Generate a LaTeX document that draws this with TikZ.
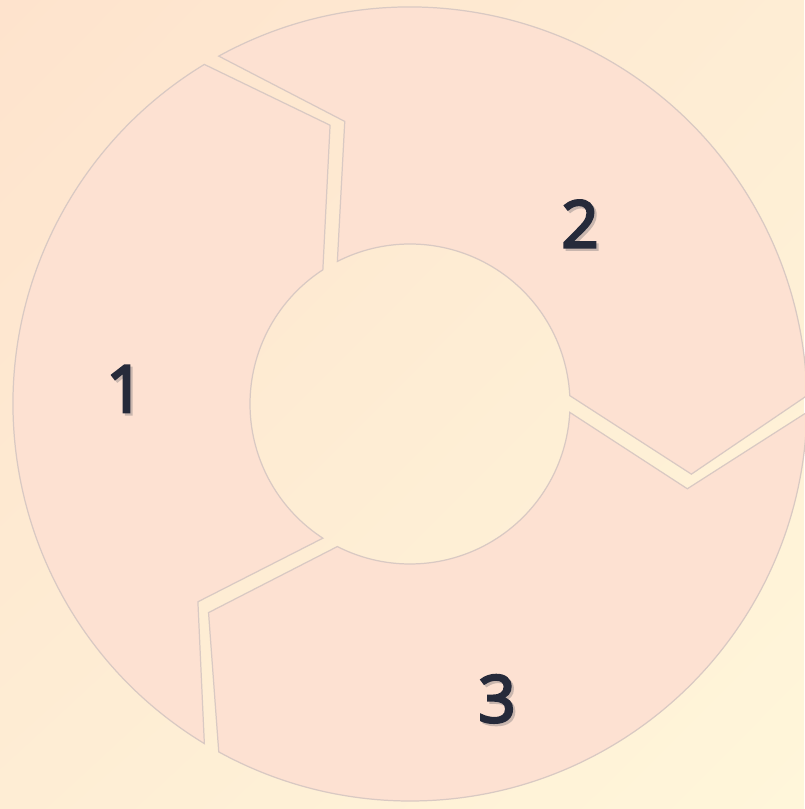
\documentclass[tikz,border=0pt]{standalone}
\usepackage{fontspec}
\setmainfont{Open Sans}
\newfontfamily\numfont{Open Sans}[FakeBold=4]
\usepackage{xcolor}
\usepackage{tikz}
\usetikzlibrary{positioning, shadings}
\definecolor{bgpeach}{HTML}{FEE3CD}
\definecolor{bgmid}{HTML}{FEEDD4}
\definecolor{bgcream}{HTML}{FFF6DA}
\definecolor{segfill}{HTML}{FDE1D2}
\definecolor{segline}{HTML}{D9C9C3}
\definecolor{numtext}{HTML}{262A3A}
\definecolor{numshadow}{HTML}{C9B6AE}
\newcommand{\shadownum}[1]{\makebox[0pt][l]{\kern1.3pt\raisebox{-1.3pt}{\color{numshadow}#1}}#1}
\tikzstyle{segment} = [fill=segfill, draw=segline, line width=0.7pt, line join=miter]
\tikzstyle{number} = [font=\fontsize{37}{40}\selectfont\numfont, text=numtext, inner sep=0pt]

\begin{document}
\begin{tikzpicture}[scale=0.02]
  \shade[upper left=bgpeach, upper right=bgmid, lower left=bgmid, lower right=bgcream] (-410,-405) rectangle (394,404);
  \useasboundingbox (-410,-405) rectangle (394,404);
  \draw[segment] (238.8:397) arc[start angle=238.8, end angle=121.2, radius=397] -- (106:290) -- (123:160) arc[start angle=123, end angle=237, radius=160] -- (223:290) -- cycle;
  \draw[segment] (118.8:397) arc[start angle=118.8, end angle=1.2, radius=397] -- (-14:290) -- (3:160) arc[start angle=3, end angle=117, radius=160] -- (103:290) -- cycle;
  \draw[segment] (358.8:397) arc[start angle=358.8, end angle=241.2, radius=397] -- (226:290) -- (243:160) arc[start angle=243, end angle=357, radius=160] -- (343:290) -- cycle;
  \node (one) [number] at (-285,14) {\shadownum{1}};
  \node (two) [number] at (170,179) {\shadownum{2}};
  \node (three) [number] at (87,-296) {\shadownum{3}};
\end{tikzpicture}
\end{document}
